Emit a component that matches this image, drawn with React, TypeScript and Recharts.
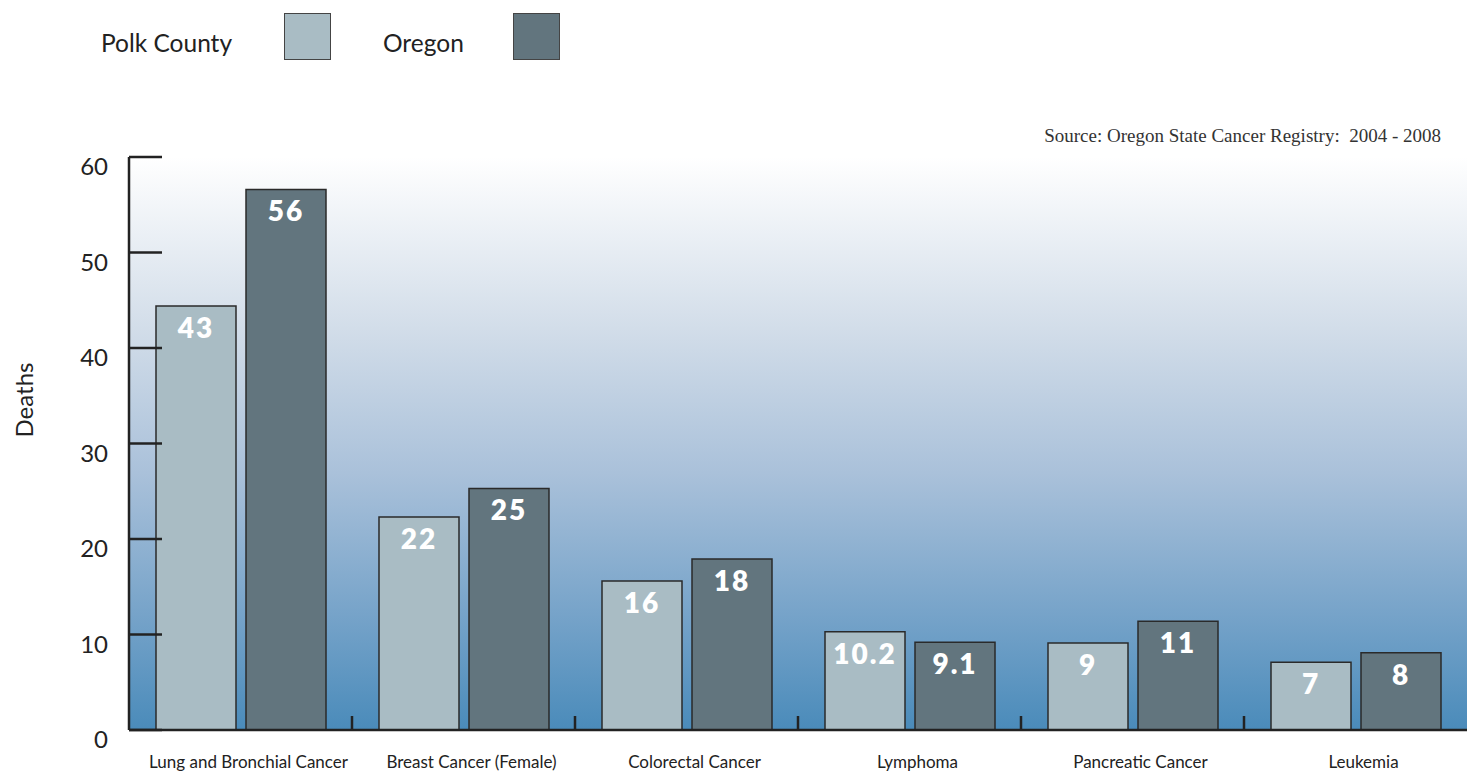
import { BarChart, Bar, XAxis, YAxis, CartesianGrid, LabelList } from 'recharts';

// cancer deaths, Polk County vs Oregon (2004 - 2008)
const categories = [
    'Lung and Bronchial Cancer',
    'Breast Cancer (Female)',
    'Colorectal Cancer',
    'Lymphoma',
    'Pancreatic Cancer',
    'Leukemia',
];
// bar heights as drawn in the original
const polkValues = [44.4, 22.3, 15.6, 10.3, 9.1, 7.1];
const oregonValues = [56.6, 25.3, 17.9, 9.2, 11.4, 8.1];
// printed labels on the bars
const polkLabels = ['43', '22', '16', '10.2', '9', '7'];
const oregonLabels = ['56', '25', '18', '9.1', '11', '8'];
const yTicks = [0, 10, 20, 30, 40, 50, 60];

const data = categories.map((name, i) => ({
    name,
    polk: polkValues[i],
    oregon: oregonValues[i],
    polkLabel: polkLabels[i],
    oregonLabel: oregonLabels[i],
}));

const POLK = '#a9bcc4';
const OREGON = '#62757e';
const INK = '#222222';
const SANS = 'Lato, "Open Sans", sans-serif';

function YTick(props: any) {
    const { x, y, payload } = props;
    return (
        <g>
            <line x1={x} x2={x + 33} y1={y} y2={y} stroke={INK} strokeWidth={2.5} />
            <text x={x - 21} y={y + 18} textAnchor="end" fontFamily={SANS} fontSize={24} fill={INK}>
                {payload.value}
            </text>
        </g>
    );
}

function XTick(props: any) {
    const { x, y, payload, index } = props;
    const half = payload.offset ?? 111.5;
    return (
        <g>
            {index > 0 && (
                <line x1={x - half} x2={x - half} y1={y} y2={y - 14} stroke={INK} strokeWidth={2.5} />
            )}
            <text x={x + 8} y={y + 38} textAnchor="middle" fontFamily={SANS} fontSize={17} fill={INK}>
                {payload.value}
            </text>
        </g>
    );
}

function makeValueLabel(key: 'polkLabel' | 'oregonLabel') {
    return (props: any) => {
        const { x, y, width, index } = props;
        return (
            <text
                x={x + width / 2}
                y={y + 32}
                textAnchor="middle"
                fontFamily={SANS}
                fontWeight={800}
                fontSize={28}
                letterSpacing={2}
                fill="#ffffff"
            >
                {data[index][key]}
            </text>
        );
    };
}

export default function App() {
    return (
        <div style={{ position: 'absolute', left: 0, top: 0, width: 1467, height: 773, background: '#fff' }}>
            {/* legend */}
            <div style={{ position: 'absolute', left: 101, top: 28, fontFamily: SANS, fontSize: 24.5, color: INK }}>
                Polk County
            </div>
            <div style={{ position: 'absolute', left: 284, top: 13, width: 45, height: 45, background: POLK, border: '1.5px solid #444' }} />
            <div style={{ position: 'absolute', left: 383, top: 28, fontFamily: SANS, fontSize: 24.5, color: INK }}>
                Oregon
            </div>
            <div style={{ position: 'absolute', left: 513, top: 13, width: 45, height: 45, background: OREGON, border: '1.5px solid #444' }} />
            <div
                style={{
                    position: 'absolute',
                    right: 26,
                    top: 125,
                    fontFamily: '"Liberation Serif", serif',
                    fontSize: 19,
                    color: '#333',
                    whiteSpace: 'pre',
                }}
            >
                {'Source: Oregon State Cancer Registry:  2004 - 2008'}
            </div>
            <div
                style={{
                    position: 'absolute',
                    left: 23,
                    top: 400,
                    transform: 'translate(-50%, -50%) rotate(-90deg)',
                    fontFamily: SANS,
                    fontSize: 24,
                    color: INK,
                }}
            >
                Deaths
            </div>
            <BarChart
                width={1467}
                height={773}
                data={data}
                margin={{ top: 157, right: 0, bottom: 0, left: 0 }}
                barSize={80}
                barGap={10}
                style={{ position: 'absolute', left: 0, top: 0 }}
            >
                <defs>
                    <linearGradient id="bg" x1="0" y1="0" x2="0" y2="1">
                        <stop offset="0%" stopColor="#ffffff" />
                        <stop offset="30%" stopColor="#d2dde9" />
                        <stop offset="55%" stopColor="#aac1da" />
                        <stop offset="80%" stopColor="#76a3c9" />
                        <stop offset="100%" stopColor="#4a8bba" />
                    </linearGradient>
                </defs>
                <CartesianGrid horizontal={false} vertical={false} fill="url(#bg)" />
                <XAxis
                    dataKey="name"
                    height={43}
                    axisLine={{ stroke: INK, strokeWidth: 2.5 }}
                    tickLine={false}
                    tickSize={0}
                    tickMargin={0}
                    tick={<XTick />}
                    interval={0}
                />
                <YAxis
                    width={129}
                    domain={[0, 60]}
                    ticks={yTicks}
                    axisLine={{ stroke: INK, strokeWidth: 2.5 }}
                    tickLine={false}
                    tickSize={0}
                    tickMargin={0}
                    tick={<YTick />}
                    allowDataOverflow
                />
                <Bar dataKey="polk" name="Polk County" fill={POLK} stroke="#2a2a2a" strokeWidth={1.5} isAnimationActive={false}>
                    <LabelList dataKey="polkLabel" content={makeValueLabel('polkLabel')} />
                </Bar>
                <Bar dataKey="oregon" name="Oregon" fill={OREGON} stroke="#2a2a2a" strokeWidth={1.5} isAnimationActive={false}>
                    <LabelList dataKey="oregonLabel" content={makeValueLabel('oregonLabel')} />
                </Bar>
            </BarChart>
        </div>
    );
}
